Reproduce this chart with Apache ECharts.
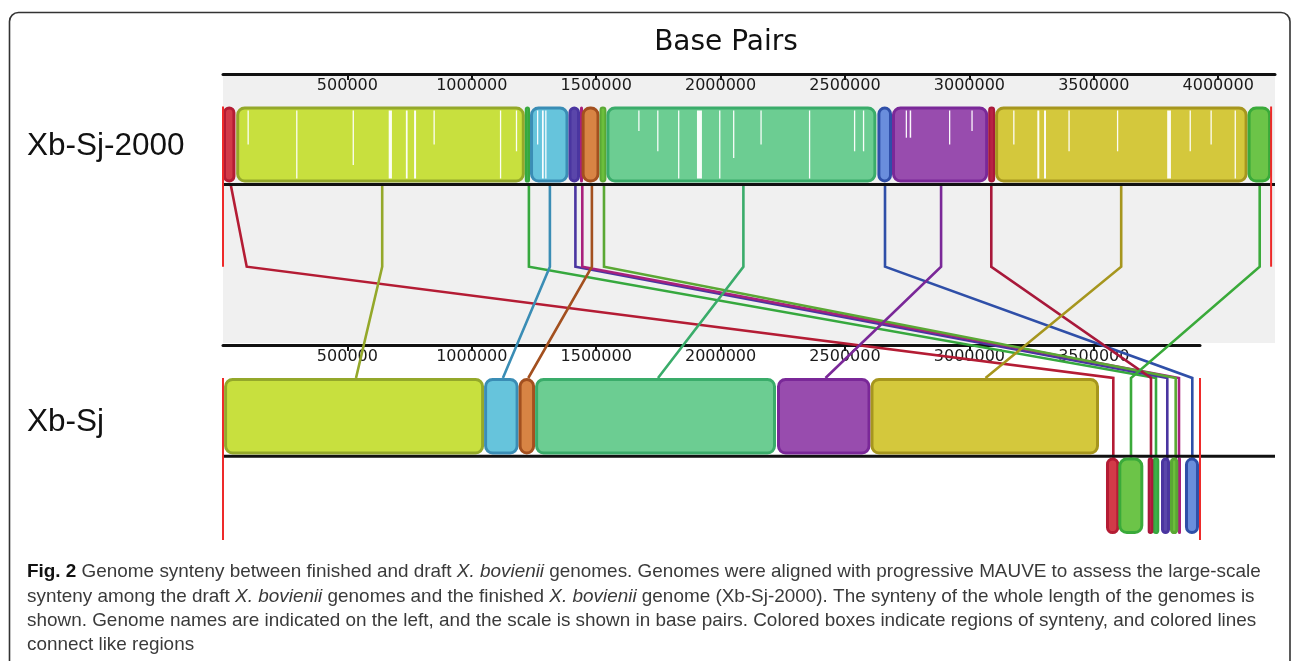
<!DOCTYPE html>
<html><head><meta charset="utf-8">
<script src="https://cdn.jsdelivr.net/npm/echarts@6/dist/echarts.min.js"></script>
<style>html,body{margin:0;padding:0;background:#fff}#c{width:1293px;height:661px}</style>
</head><body><div id="c"></div>
<script>
// ---------- data ----------
const genomeNames = ['Xb-Sj-2000', 'Xb-Sj'];
const genomeLength = [4212600, 3926900];
const axisMax = [4228300, 3926900];
const tickTop = [500000, 1000000, 1500000, 2000000, 2500000, 3000000, 3500000, 4000000];
const tickBottom = [500000, 1000000, 1500000, 2000000, 2500000, 3000000, 3500000];

// LCBs (locally collinear blocks), same order in every array
const lcbNames = ['red', 'yellowGreen', 'green1', 'lightBlue', 'indigo', 'magenta', 'orange', 'green2', 'greenBig', 'blue', 'purple', 'crimson', 'olive', 'greenSmall'];
const lcbFill   = ['#d23a48', '#c8e03e', '#3cb04a', '#66c4dc', '#5a46aa', '#d040a8', '#d88444', '#6cbf3c', '#6ccd92', '#6a8edc', '#984cae', '#b82244', '#d4c83c', '#6cc448'];
const lcbStroke = ['#b41c34', '#94a82a', '#36a83e', '#3a8db5', '#4a35a0', '#a8207c', '#a3501f', '#5aa834', '#3aac6a', '#2f4fa8', '#7a2898', '#a8183a', '#a6961e', '#3aaa3a'];

const topStart = [0, 53000, 1213000, 1234000, 1388700, 1434900, 1441300, 1513300, 1541000, 2630200, 2688900, 3075500, 3103300, 4118100];
const topEnd   = [50000, 1213000, 1234000, 1388700, 1434900, 1441300, 1513300, 1541000, 2626200, 2688900, 3075500, 3103300, 4118100, 4212600];

const botStart = [3549000, 4400, 3736700, 1049400, 3770100, 3838400, 1188100, 3806300, 1254400, 3866500, 2226700, 3716600, 2602500, 3598500];
const botEnd   = [3602500, 1049400, 3763200, 1188100, 3806300, 3846400, 1254400, 3839600, 2222700, 3922800, 2602500, 3739100, 3520900, 3699000];
const botInverted = [1, 0, 1, 0, 1, 1, 0, 1, 0, 1, 0, 1, 0, 1];

// connecting-line anchor positions (bp)
const linkTopBp  = [30900, 639900, 1229500, 1313900, 1416400, 1444100, 1482700, 1531300, 2091600, 2660800, 2886200, 3088000, 3610100, 4166800];
const linkBendBp = [95300, 639900, 1229500, 1313900, 1416400, 1444100, 1482700, 1531300, 2091600, 2660800, 2886200, 3088000, 3610100, 4166800];
const linkBotBp  = [3578400, 534600, 3750000, 1125000, 3795400, 3842400, 1227000, 3829100, 1748400, 3895900, 2421600, 3729900, 3064700, 3649500];

// white gaps in the similarity profile of the top genome: [start, end, depth fraction]
const gapStart = [98500, 294000, 521000, 666000, 735000, 768000, 846000, 1113000, 1177000, 1262000, 1282000, 1295000, 1669000, 1745000, 1829000, 1905000, 1994000, 2050000, 2160000, 2355000, 2536000, 2572000, 2744000, 2760000, 2918000, 3008000, 3176000, 3273000, 3300000, 3398000, 3593000, 3795000, 3885000, 3969000, 4066000];
const gapEnd   = [101500, 297500, 524000, 679000, 742000, 776000, 849000, 1118000, 1180000, 1265000, 1289000, 1300000, 1672000, 1748500, 1833000, 1925000, 1998000, 2053000, 2163000, 2359000, 2539000, 2576000, 2748000, 2766000, 2921000, 3011000, 3179000, 3281000, 3308000, 3401000, 3596000, 3810000, 3888000, 3972000, 4071000];
const gapDepth = [0.5, 1, 0.8, 1, 1, 1, 0.5, 1, 0.6, 0.5, 1, 1, 0.3, 0.6, 1, 1, 1, 0.7, 0.5, 1, 0.6, 0.6, 0.4, 0.4, 0.5, 0.3, 0.5, 1, 1, 0.6, 0.6, 1, 0.6, 0.5, 1];

// ---------- layout ----------
const L = {
  left: 223, topAxisY: 74, topGridH: 269, botAxisY: 345, botGridH: 195,
  topBlockY: 106.5, topBlockH: 76, topCenterY: 184.6, topLowerEnd: 266.7,
  botBlockY: 378, botBlockH: 76.5, botCenterY: 456.2, botInvY: 457.6, botInvH: 76.5, botLowerEnd: 540,
  linkBotY: 378
};
const pxPerBp = 1052 / axisMax[0];

// caption font fitting
const meas = document.createElement('canvas').getContext('2d');
function width(font, t) { meas.font = font; return meas.measureText(t).width; }
const narrowOk = width('100px "Liberation Sans Narrow", monospace', 'abcdefghij') !== width('100px monospace', 'abcdefghij');
const capFamily = narrowOk ? '"Liberation Sans Narrow"' : '"Liberation Sans"';
const capLine1 = 'Fig. 2 Genome synteny between finished and draft X. bovienii genomes. Genomes were aligned with progressive MAUVE to assess the large-scale';
const capSize = Math.min(22, 100 * 1232 / width('100px ' + capFamily, capLine1));

const chart = echarts.init(document.getElementById('c'), null, { renderer: 'canvas' });

function axisCfg(gi, max, ticks) {
  return {
    gridIndex: gi, type: 'value', min: 0, max: max, interval: 500000, position: 'top',
    axisLine: { show: true, onZero: false, lineStyle: { color: '#111', width: 3 } },
    axisTick: { show: true, inside: true, length: 6, customValues: ticks, lineStyle: { color: '#111', width: 2 } },
    axisLabel: { show: true, inside: true, margin: 4, customValues: ticks, formatter: v => String(v),
      fontFamily: 'DejaVu Sans', fontSize: 16, color: '#1a1a1a' },
    splitLine: { show: false }
  };
}

const topData = lcbNames.map((n, i) => [topStart[i], topEnd[i], i, 0]);
const botData = lcbNames.map((n, i) => [botStart[i], botEnd[i], i, botInverted[i]]);
const gapData = gapStart.map((s, i) => [s, gapEnd[i], gapDepth[i]]);
const linkData = lcbNames.map((n, i) => [linkTopBp[i], linkBendBp[i], linkBotBp[i], botInverted[i], i]);

function blockRender(track) {
  return function (params, api) {
    const s = api.coord([api.value(0), 0])[0];
    const e = api.coord([api.value(1), 0])[0];
    const i = api.value(2), inv = api.value(3);
    let y, h;
    if (track === 0) { y = L.topBlockY; h = L.topBlockH; }
    else if (inv) { y = L.botInvY; h = L.botInvH; }
    else { y = L.botBlockY; h = L.botBlockH; }
    const w = Math.max(e - s, 3);
    const sw = w < 8 ? 2 : 3;
    return {
      type: 'rect',
      shape: { x: s + sw / 2, y: y + sw / 2, width: Math.max(w - sw, 0.5), height: h - sw, r: Math.min(7, (w - sw) / 2) },
      style: { fill: lcbFill[i], stroke: lcbStroke[i], lineWidth: sw }
    };
  };
}

function gapRender(params, api) {
  const s = api.coord([api.value(0), 0])[0];
  const e = api.coord([api.value(1), 0])[0];
  const d = api.value(2);
  const inner = L.topBlockH - 8;
  return {
    type: 'rect',
    shape: { x: s, y: L.topBlockY + 4, width: Math.max(e - s, 1.3), height: inner * d },
    style: { fill: '#ffffff', opacity: 0.95 }
  };
}

// both axes use the same px-per-bp scale and origin, so one axis maps every anchor
function linkRender(params, api) {
  const xt = api.coord([api.value(0), 0])[0];
  const xb = api.coord([api.value(1), 0])[0];
  const xd = api.coord([api.value(2), 0])[0];
  const inv = api.value(3), i = api.value(4);
  const pts = [[xt, L.topCenterY], [xb, L.topLowerEnd], [xd, L.linkBotY]];
  if (inv) pts.push([xd, L.botInvY + 2]);
  return {
    type: 'polyline', shape: { points: pts },
    style: { stroke: lcbStroke[i], lineWidth: 2.6, fill: null, lineJoin: 'miter' }
  };
}

function endRender(params, api) {
  const x = api.coord([api.value(0), 0])[0];
  const t = api.value(1);
  return {
    type: 'line',
    shape: t === 0 ? { x1: x, y1: L.topBlockY, x2: x, y2: L.topLowerEnd } : { x1: x, y1: L.botBlockY, x2: x, y2: L.botLowerEnd },
    style: { stroke: '#ee2a2a', lineWidth: 2 }
  };
}

const option = {
  animation: false,
  grid: [
    { left: L.left, top: L.topAxisY, width: axisMax[0] * pxPerBp, height: L.topGridH, show: true, backgroundColor: '#f0f0f0', borderWidth: 0 },
    { left: L.left, top: L.botAxisY, width: axisMax[1] * pxPerBp, height: L.botGridH, show: false }
  ],
  xAxis: [axisCfg(0, axisMax[0], tickTop), axisCfg(1, axisMax[1], tickBottom)],
  yAxis: [
    { gridIndex: 0, type: 'value', min: 0, max: 1, show: false },
    { gridIndex: 1, type: 'value', min: 0, max: 1, show: false }
  ],
  series: [
    { type: 'custom', name: 'links', xAxisIndex: 0, yAxisIndex: 0, renderItem: linkRender, data: linkData, z: 3, clip: false, silent: true },
    { type: 'custom', name: genomeNames[0], xAxisIndex: 0, yAxisIndex: 0, renderItem: blockRender(0), data: topData, z: 5, clip: false, silent: true },
    { type: 'custom', name: 'gaps', xAxisIndex: 0, yAxisIndex: 0, renderItem: gapRender, data: gapData, z: 6, clip: false, silent: true },
    { type: 'custom', name: genomeNames[1], xAxisIndex: 1, yAxisIndex: 1, renderItem: blockRender(1), data: botData, z: 5, clip: false, silent: true },
    { type: 'custom', name: 'ends0', xAxisIndex: 0, yAxisIndex: 0, renderItem: endRender, data: [[0, 0], [genomeLength[0], 0]], z: 7, clip: false, silent: true },
    { type: 'custom', name: 'ends1', xAxisIndex: 1, yAxisIndex: 1, renderItem: endRender, data: [[0, 1], [genomeLength[1], 1]], z: 7, clip: false, silent: true }
  ],
  graphic: [
    { type: 'rect', z: 0, shape: { x: 9.5, y: 12.5, width: 1280.5, height: 720, r: 9 }, style: { fill: null, stroke: '#333', lineWidth: 1.6 } },
    { type: 'text', z: 10, x: 726, y: 43, style: { text: 'Base Pairs', fontFamily: 'DejaVu Sans', fontSize: 28, fill: '#111', align: 'center', verticalAlign: 'middle' } },
    { type: 'text', z: 10, x: 27, y: 146, style: { text: genomeNames[0], fontFamily: 'Liberation Sans', fontSize: 31.5, fill: '#111', align: 'left', verticalAlign: 'middle' } },
    { type: 'text', z: 10, x: 27, y: 422, style: { text: genomeNames[1], fontFamily: 'Liberation Sans', fontSize: 31.5, fill: '#111', align: 'left', verticalAlign: 'middle' } },
    { type: 'line', z: 4, shape: { x1: 222, y1: L.topCenterY, x2: 1275, y2: L.topCenterY }, style: { stroke: '#111', lineWidth: 3 } },
    { type: 'line', z: 4, shape: { x1: 222, y1: L.botCenterY, x2: 1275, y2: L.botCenterY }, style: { stroke: '#111', lineWidth: 3 } }
  ]
};

const rich = {
  b: { fontFamily: capFamily, fontSize: capSize, fontWeight: 'bold', fill: '#111' },
  i: { fontFamily: capFamily, fontSize: capSize, fontStyle: 'italic', fill: '#3a3a3a' }
};
const capLines = [
  '{b|Fig. 2} Genome synteny between finished and draft {i|X. bovienii} genomes. Genomes were aligned with progressive MAUVE to assess the large-scale',
  'synteny among the draft {i|X. bovienii} genomes and the finished {i|X. bovienii} genome (Xb-Sj-2000). The synteny of the whole length of the genomes is',
  'shown. Genome names are indicated on the left, and the scale is shown in base pairs. Colored boxes indicate regions of synteny, and colored lines',
  'connect like regions'
];
const capY = [572, 597, 621, 645];
capLines.forEach((t, k) => {
  option.graphic.push({ type: 'text', z: 10, x: 27, y: capY[k], style: { text: t, rich: rich, fontFamily: capFamily, fontSize: capSize, fill: '#3a3a3a', align: 'left', verticalAlign: 'middle' } });
});

chart.setOption(option);
</script></body></html>
